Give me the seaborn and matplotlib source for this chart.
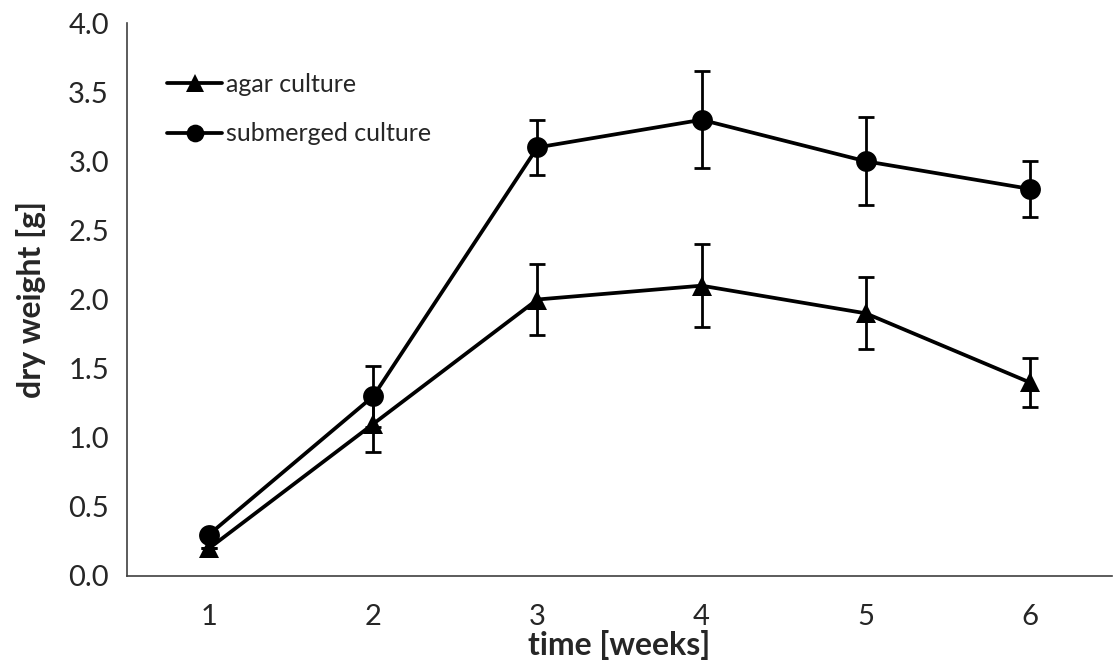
import numpy as np
import pandas as pd
import matplotlib
matplotlib.use("Agg")
import matplotlib.pyplot as plt
import seaborn as sns

# ==== data ====
weeks = [1, 2, 3, 4, 5, 6]
agar = [0.2, 1.1, 2.0, 2.1, 1.9, 1.4]
agar_err = [0.0, 0.2, 0.26, 0.3, 0.26, 0.18]
submerged = [0.3, 1.3, 3.1, 3.3, 3.0, 2.8]
submerged_err = [0.0, 0.22, 0.2, 0.35, 0.32, 0.2]

sns.set_style("white")
plt.rcParams["font.family"] = ["Lato", "DejaVu Sans"]

df = pd.DataFrame({
    "week": weeks * 2,
    "weight": agar + submerged,
    "culture": ["agar culture"] * 6 + ["submerged culture"] * 6,
})

fig = plt.figure(figsize=(11.17, 6.71), dpi=100)
ax = fig.add_axes([0.1137, 0.1416, 0.8818, 0.8241])

# error bars first, so markers sit on top
ax.errorbar(weeks, agar, yerr=agar_err, fmt="none", ecolor="black",
            elinewidth=2, capsize=6, capthick=2, zorder=2)
ax.errorbar(weeks, submerged, yerr=submerged_err, fmt="none", ecolor="black",
            elinewidth=2, capsize=6, capthick=2, zorder=2)

sns.lineplot(data=df, x="week", y="weight", hue="culture", style="culture",
             markers={"agar culture": "^", "submerged culture": "o"},
             dashes=False, palette=["black", "black"], linewidth=2.7,
             markersize=15, markeredgewidth=0, ax=ax, zorder=3)

ax.set_xlim(0.5, 6.5)
ax.set_ylim(0, 4.0)
ax.set_yticks(np.arange(0, 4.01, 0.5))
ax.set_yticklabels([f"{v:.1f}" for v in np.arange(0, 4.01, 0.5)], fontsize=21)

# category style x axis: ticks on the boundaries, labels in the middle
ax.set_xticks(np.arange(0.5, 6.6, 1.0))
ax.set_xticklabels([])
ax.set_xticks(weeks, minor=True)
ax.set_xticklabels([str(w) for w in weeks], minor=True, fontsize=21)
ax.tick_params(axis="x", which="major", direction="out", length=8, width=1, color="#404040")
ax.tick_params(axis="x", which="minor", length=0, pad=20)
ax.tick_params(axis="y", direction="out", length=7, width=1, color="#404040", pad=6)

for side in ["top", "right"]:
    ax.spines[side].set_visible(False)
for side in ["left", "bottom"]:
    ax.spines[side].set_color("#404040")
    ax.spines[side].set_linewidth(1.2)

ax.set_xlabel("time [weeks]", fontsize=23, fontweight="bold", labelpad=0)
ax.set_ylabel("dry weight [g]", fontsize=23, fontweight="bold", labelpad=16)

leg = ax.legend(loc="upper left", bbox_to_anchor=(0.018, 0.95), frameon=False,
                fontsize=18, handlelength=2.2, handletextpad=0.15, labelspacing=1.05,
                markerscale=0.85)

fig.savefig("out.png", dpi=100)
